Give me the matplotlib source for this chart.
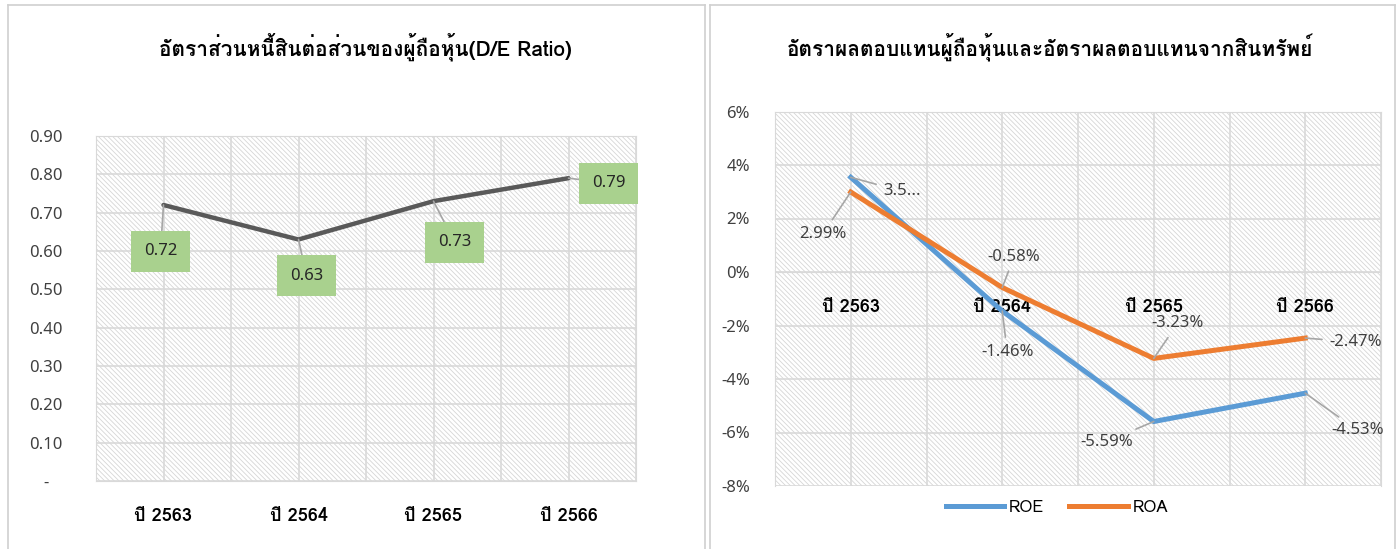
import matplotlib
matplotlib.use("Agg")
import matplotlib.pyplot as plt
from matplotlib import font_manager as fm
from matplotlib.ft2font import FT2Font
from matplotlib.patches import Rectangle
from matplotlib.lines import Line2D

# ---------------- data ----------------
categories = ["ปี 2563", "ปี 2564", "ปี 2565", "ปี 2566"]
de_ratio = [0.72, 0.63, 0.73, 0.79]
roe = [3.54, -1.46, -5.59, -4.53]
roa = [2.99, -0.58, -3.23, -2.47]
left_title = "อัตราส่วนหนี้สินต่อส่วนของผู้ถือหุ้น(D/E Ratio)"
right_title = "อัตราผลตอบแทนผู้ถือหุ้นและอัตราผลตอบแทนจากสินทรัพย์"
left_yticks = [0.0, 0.1, 0.2, 0.3, 0.4, 0.5, 0.6, 0.7, 0.8, 0.9]
right_yticks = [-8, -6, -4, -2, 0, 2, 4, 6]
series_names = ["ROE", "ROA"]

# ---------------- fonts ----------------
def thai_fonts():
    found = []
    for f in fm.fontManager.ttflist:
        try:
            cm = FT2Font(f.fname).get_charmap()
        except Exception:
            continue
        if 0x0E1B in cm and 0x0E35 in cm and 0x0E2D in cm:
            if f.name not in found:
                found.append(f.name)
    return found

tf = thai_fonts()
NUM = "Noto Sans"
FAM = (tf[:1] if tf else []) + [NUM, "DejaVu Sans"]
plt.rcParams["font.family"] = FAM
plt.rcParams["hatch.linewidth"] = 0.6

GRID = "#d9d9d9"
TXT = "#404040"
LEAD = "#a6a6a6"

fig = plt.figure(figsize=(13.99, 5.49), dpi=100)
W, H = 1399.0, 549.0

def fx(px):
    return px / W

def fy(py):
    return 1 - py / H

# panel borders
for xa, xb in [(8, 705), (710, 1395)]:
    fig.add_artist(Line2D([fx(xa), fx(xa)], [fy(5), 0], color="#d0d0d0", lw=1.2))
    fig.add_artist(Line2D([fx(xb), fx(xb)], [fy(5), 0], color="#d0d0d0", lw=1.2))
    fig.add_artist(Line2D([fx(xa), fx(xb)], [fy(5), fy(5)], color="#d0d0d0", lw=1.2))


def hatch_bg(ax):
    ax.add_patch(Rectangle((0, 0), 1, 1, transform=ax.transAxes, facecolor="white",
                           edgecolor="#d6d6d6", hatch="\\\\\\\\\\\\\\", linewidth=0, zorder=0))
    ax.patch.set_visible(False)

# ---------------- left chart ----------------
ax1 = fig.add_axes([fx(96), fy(481), fx(636) - fx(96), fy(136) - fy(481)])
hatch_bg(ax1)
x = list(range(len(categories)))
ax1.set_xlim(-0.5, len(categories) - 0.5)
ax1.set_ylim(0, 0.9)
for xv in [i * 0.5 - 0.5 for i in range(2 * len(categories) + 1)]:
    ax1.axvline(xv, color=GRID, lw=1.2, zorder=1)
for yv in left_yticks:
    ax1.axhline(yv, color=GRID, lw=1.2, zorder=1)
ax1.plot(x, de_ratio, color="#595959", lw=3.2, zorder=3, solid_capstyle="round")
ax1.set_yticks(left_yticks)
ax1.set_yticklabels(["-   " if v == 0 else f"{v:.2f}" for v in left_yticks],
                    fontsize=12, color=TXT, family=[NUM])
ax1.set_xticks(x)
ax1.set_xticklabels(categories, fontsize=13, color="black", fontweight="bold")
ax1.tick_params(axis="y", length=0, pad=24)
ax1.tick_params(axis="x", length=0, pad=19)
for s in ax1.spines.values():
    s.set_color(GRID)

left_offsets = [(-3, -46), (8, -36), (21, -41), (40, -5)]
for xi, v, off in zip(x, de_ratio, left_offsets):
    ax1.annotate(f"{v:.2f}", (xi, v), xytext=off, textcoords="offset pixels",
                 ha="center", va="center", fontsize=12, color="#262626", family=[NUM],
                 bbox=dict(boxstyle="square,pad=0.75", fc="#A9D18E", ec="none"),
                 arrowprops=dict(arrowstyle="-", color=LEAD, lw=1.2, shrinkA=0, shrinkB=0),
                 zorder=5)

fig.text(fx(365), fy(47), left_title, ha="center", va="center", fontsize=15,
         fontweight="bold", color="black")

# ---------------- right chart ----------------
ax2 = fig.add_axes([fx(775), fy(486), fx(1381) - fx(775), fy(111.5) - fy(486)])
hatch_bg(ax2)
ax2.set_xlim(-0.5, len(categories) - 0.5)
ax2.set_ylim(-8, 6)
ax2.spines["bottom"].set_position(("data", 0))
for xv in [i * 0.5 - 0.5 for i in range(2 * len(categories) + 1)]:
    ax2.axvline(xv, color=GRID, lw=1.2, zorder=1)
for yv in right_yticks:
    ax2.axhline(yv, color=GRID, lw=1.2, zorder=1)
l1, = ax2.plot(x, roe, color="#5B9BD5", lw=3.6, zorder=3, label=series_names[0])
l2, = ax2.plot(x, roa, color="#ED7D31", lw=3.6, zorder=4, label=series_names[1])
ax2.set_yticks(right_yticks)
ax2.set_yticklabels([f"{v:d}%" for v in right_yticks], fontsize=12, color=TXT, family=[NUM])
ax2.set_xticks(x)
ax2.set_xticklabels(categories, fontsize=13, color="black", fontweight="bold")
ax2.tick_params(axis="y", length=0, pad=18)
ax2.tick_params(axis="x", length=0, pad=19, labelsize=13)
for s in ax2.spines.values():
    s.set_color(GRID)

roe_labels = [f"{v:.2f}%" for v in roe]
roe_labels[0] = roe_labels[0][:3] + "..."
roa_labels = [f"{v:.2f}%" for v in roa]
roe_offsets = [(51, -14), (5, -41), (-47, -20), (52, -37)]
roa_offsets = [(-28, -42), (12, 31), (24, 35), (50, -4)]
for vals, labs, offs in [(roe, roe_labels, roe_offsets), (roa, roa_labels, roa_offsets)]:
    for xi, v, lab, off in zip(x, vals, labs, offs):
        ax2.annotate(lab, (xi, v), xytext=off, textcoords="offset pixels",
                     ha="center", va="center", fontsize=12, color=TXT, family=[NUM],
                     arrowprops=dict(arrowstyle="-", color=LEAD, lw=1.2, shrinkA=3, shrinkB=0),
                     zorder=6)

fig.legend(handles=[l1, l2], loc="center", bbox_to_anchor=(fx(1057), fy(508)), ncol=2,
           frameon=False, fontsize=12, handlelength=3.5, columnspacing=1.5, handletextpad=0.3)

fig.text(fx(1050), fy(47), right_title, ha="center", va="center", fontsize=15,
         fontweight="bold", color="black")

fig.savefig("out.png", dpi=100, facecolor="white")
